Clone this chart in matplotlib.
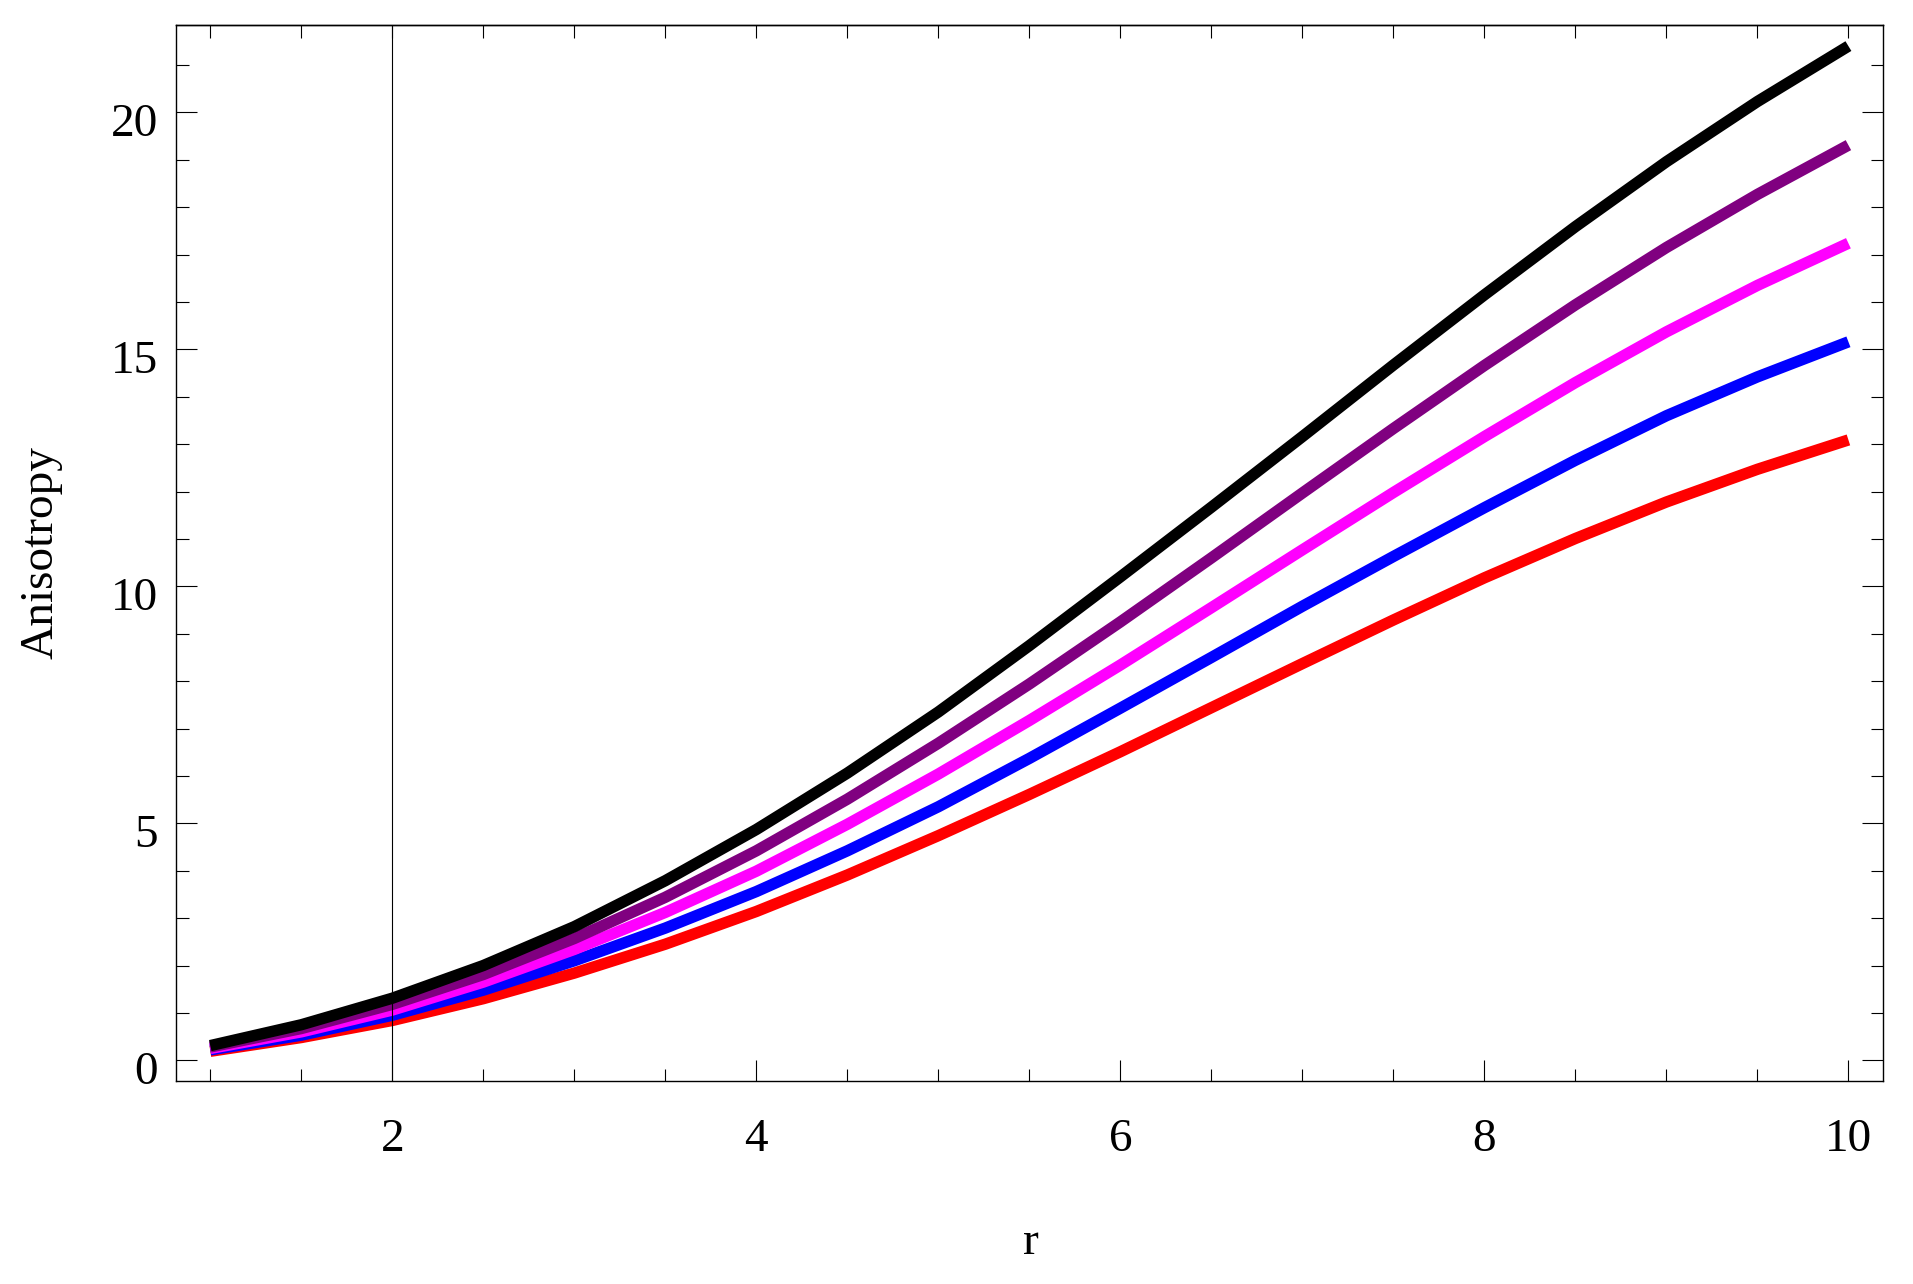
import matplotlib
matplotlib.use("Agg")
import matplotlib.pyplot as plt
import matplotlib.transforms as mtransforms
from matplotlib.ticker import MultipleLocator, FixedLocator

plt.rcParams['font.family'] = ['Liberation Serif', 'DejaVu Serif']

# values every half unit of r
r = [1, 1.5, 2, 2.5, 3, 3.5, 4, 4.5, 5, 5.5, 6, 6.5, 7, 7.5, 8, 8.5, 9, 9.5, 10]
aniso_red = [0.19, 0.48, 0.84, 1.30, 1.84, 2.45, 3.14, 3.91, 4.74, 5.61, 6.51,
             7.44, 8.37, 9.29, 10.18, 11.01, 11.78, 12.47, 13.09]
aniso_blue = [0.22, 0.53, 0.95, 1.48, 2.10, 2.79, 3.56, 4.42, 5.35, 6.37, 7.43,
              8.50, 9.58, 10.63, 11.66, 12.66, 13.60, 14.42, 15.16]
aniso_magenta = [0.25, 0.60, 1.06, 1.65, 2.34, 3.12, 3.99, 4.98, 6.04, 7.17, 8.34,
                 9.55, 10.77, 11.98, 13.16, 14.30, 15.37, 16.35, 17.24]
aniso_purple = [0.28, 0.67, 1.18, 1.81, 2.57, 3.44, 4.42, 5.51, 6.69, 7.94, 9.25,
                10.60, 11.97, 13.33, 14.66, 15.94, 17.15, 18.27, 19.31]
aniso_black = [0.31, 0.75, 1.31, 2.00, 2.82, 3.79, 4.87, 6.06, 7.35, 8.75, 10.20,
               11.67, 13.16, 14.67, 16.15, 17.59, 18.96, 20.23, 21.40]

series = [
    (aniso_red, '#ff0000'),
    (aniso_blue, '#0000ff'),
    (aniso_magenta, '#ff00ff'),
    (aniso_purple, '#800080'),
    (aniso_black, '#000000'),
]

r_mark = 2  # vertical reference line
fs = 34

fig = plt.figure(figsize=(19.13, 12.84), dpi=100)
ax = fig.add_axes([176 / 1913, 1 - 1081 / 1284, (1883 - 176) / 1913, (1081 - 25) / 1284])

for ys, col in series:
    ax.plot(r, ys, color=col, lw=8.2, solid_capstyle='butt', solid_joinstyle='round')

ax.axvline(r_mark, color='black', lw=0.8, zorder=5)

ax.set_xlim(0.8115, 10.19)
ax.set_ylim(-0.437, 21.845)

ax.xaxis.set_major_locator(FixedLocator([2, 4, 6, 8, 10]))
ax.xaxis.set_minor_locator(MultipleLocator(0.5))
ax.yaxis.set_major_locator(FixedLocator([0, 5, 10, 15, 20]))
ax.yaxis.set_minor_locator(MultipleLocator(1))

ax.tick_params(which='both', direction='in', width=0.8, colors='black')
ax.tick_params(axis='y', which='both', left=True, right=True)
ax.tick_params(which='major', length=14.8)
ax.tick_params(which='minor', length=9)
ax.tick_params(axis='x', which='major', labelsize=fs, pad=27)
ax.tick_params(axis='y', which='major', labelsize=fs, pad=13)

# top frame ticks: all short
top = ax.secondary_xaxis('top')
top.xaxis.set_major_locator(MultipleLocator(0.5))
top.tick_params(direction='in', length=9, width=0.8, labeltop=False)
top.spines['top'].set_linewidth(1.0)

for sp in ax.spines.values():
    sp.set_linewidth(1.0)

# reference labels sit a bit below their ticks
shift = mtransforms.ScaledTranslation(0, -7 / 100, fig.dpi_scale_trans)
for lab in ax.get_yticklabels():
    lab.set_transform(lab.get_transform() + shift)

fig.text(1031 / 1913, 1 - 1254 / 1284, 'r', fontsize=fs, ha='center', va='baseline')
fig.text(41 / 1913, 1 - 553 / 1284, 'Anisotropy', fontsize=fs, rotation=90,
         ha='center', va='center')

fig.savefig('out.png', dpi=100, facecolor='white')
